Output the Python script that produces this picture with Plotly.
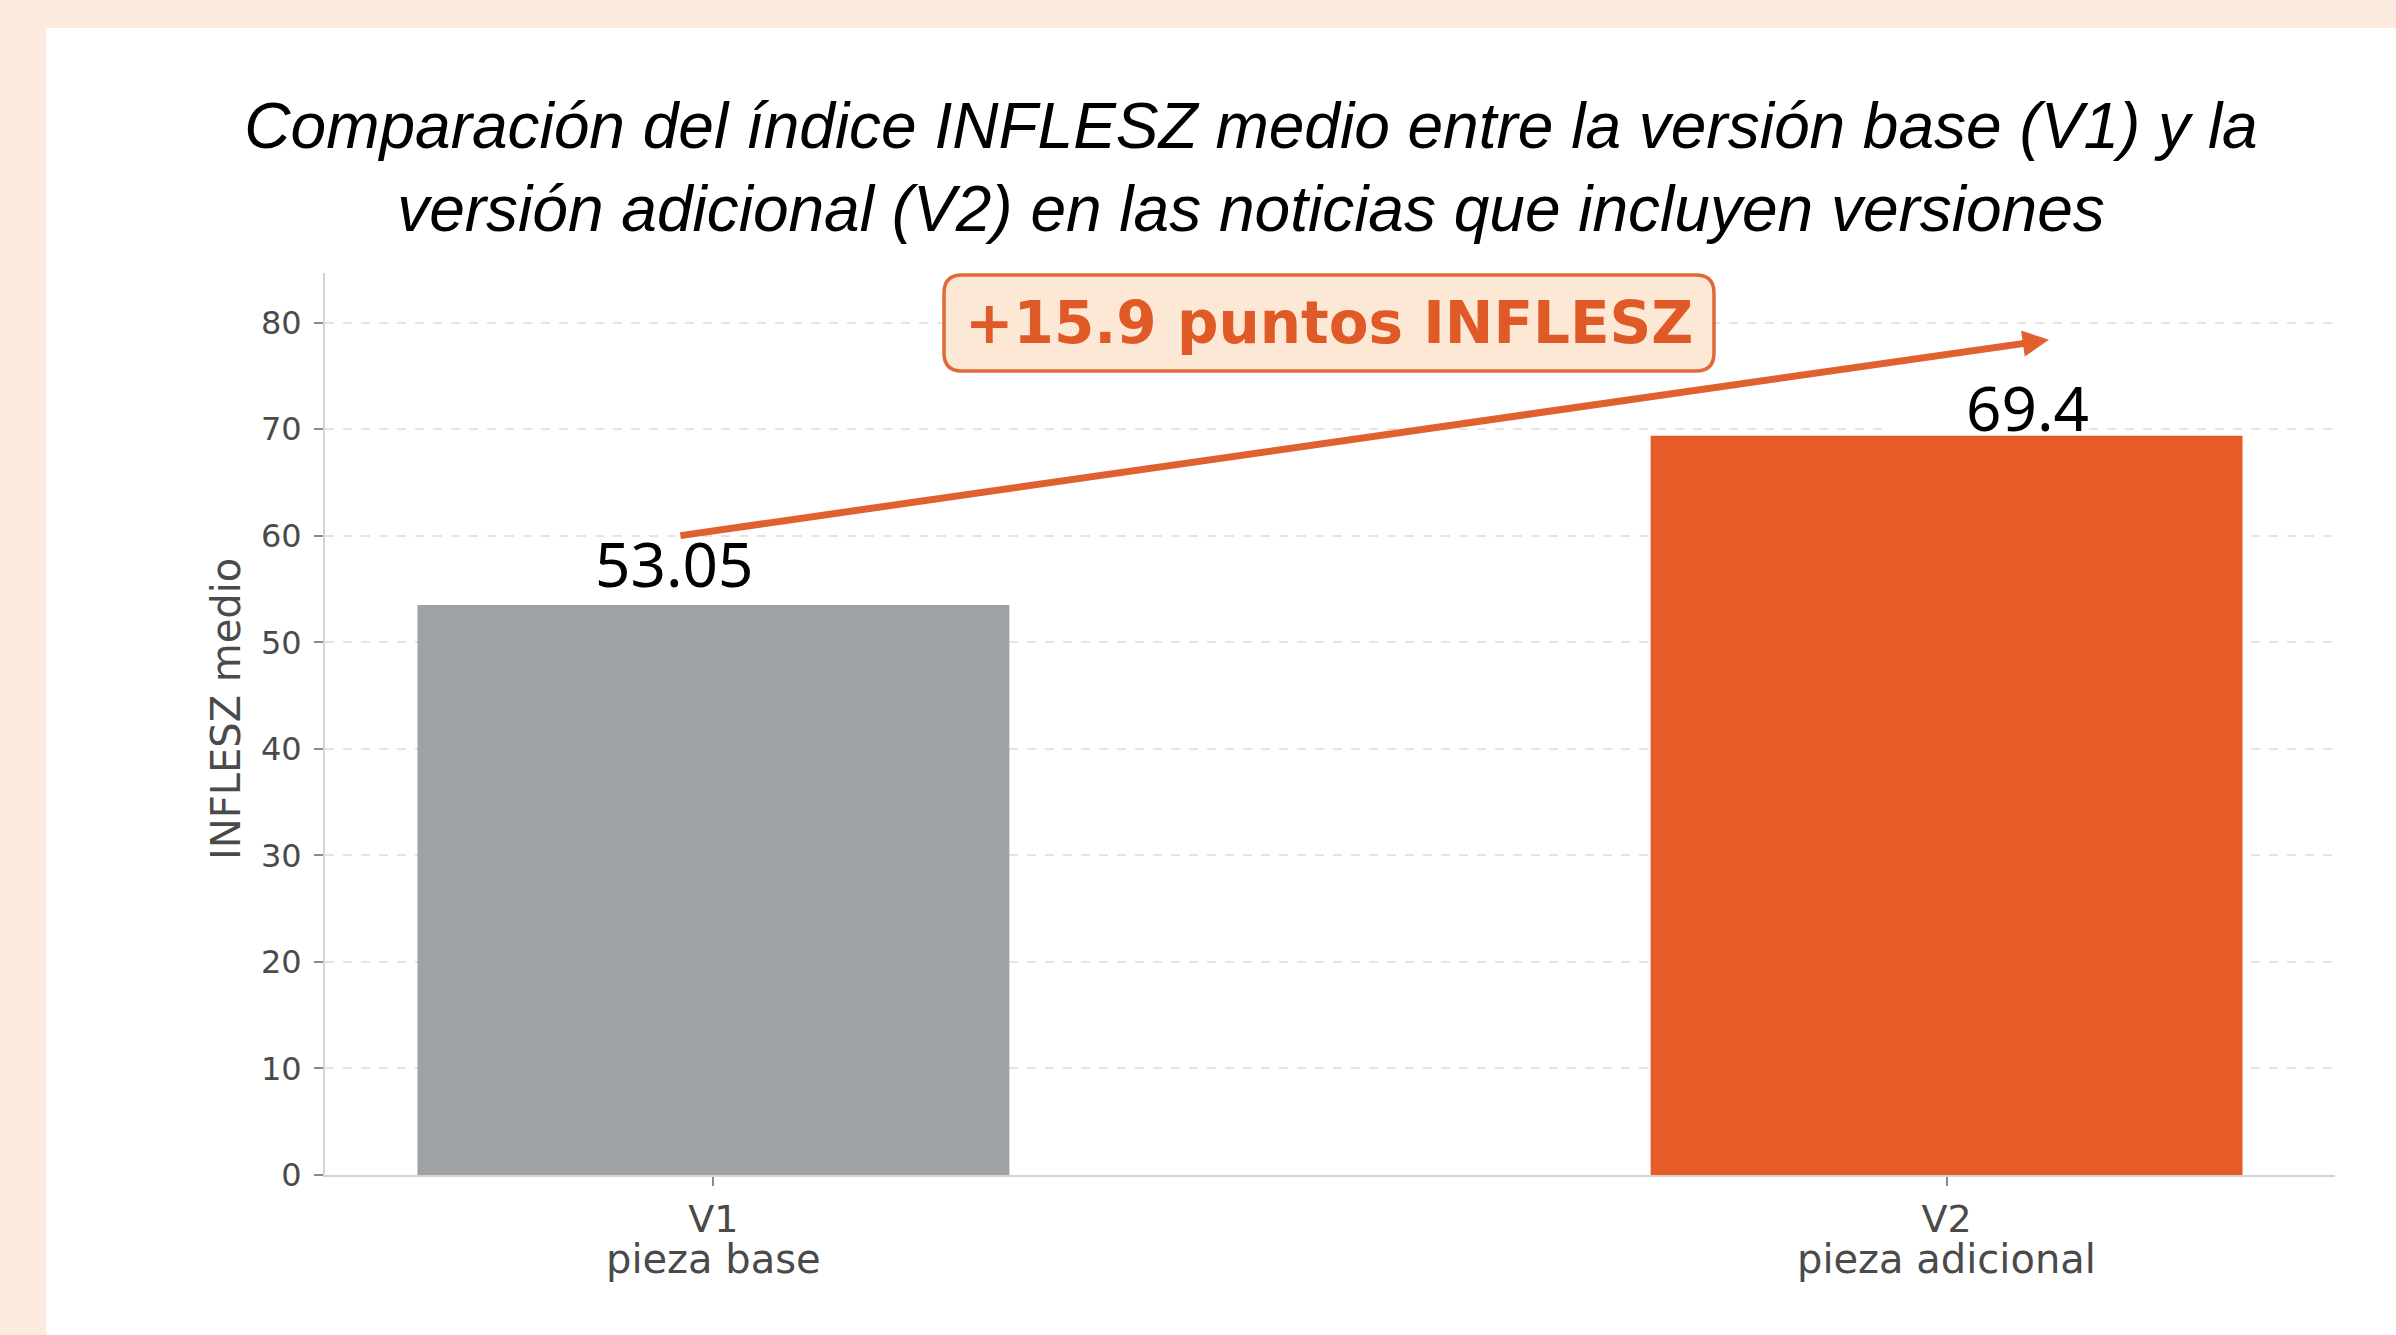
import plotly.graph_objects as go

# ---- data ----
versions = ["V1", "V2"]
descriptions = ["pieza base", "pieza adicional"]
inflesz_mean = [53.5, 69.4]
value_labels = ["53.05", "69.4"]
bar_colors = ["#9EA2A5", "#E65C28"]
difference_text = "+15.9 puntos INFLESZ"
y_ticks = [0, 10, 20, 30, 40, 50, 60, 70, 80]

xpos = list(range(len(versions)))

W, H = 2396, 1335
ML, MR, MT, MB = 325, 61, 273, 160
pw = W - ML - MR
ph = H - MT - MB


def px(x):
    return (x - ML) / pw


def py(y):
    return (H - MB - y) / ph


fig = go.Figure()
fig.add_trace(go.Bar(
    x=xpos, y=inflesz_mean, width=0.48,
    marker=dict(color=bar_colors, line=dict(width=0)),
    hoverinfo="skip", showlegend=False,
))

# white card over the peach background (peach visible top and left)
fig.add_shape(type="rect", xref="paper", yref="paper",
              x0=px(46), x1=px(W + 20), y0=py(H + 20), y1=py(28),
              fillcolor="white", line=dict(width=0), layer="below")

# white patch behind the V2 value label
fig.add_shape(type="rect", xref="x", yref="y",
              x0=0.95, x1=1.113, y0=inflesz_mean[1] + 0.1, y1=75.6,
              fillcolor="white", line=dict(width=0), layer="above")

# value labels
label_dx = [-0.032, 0.066]
label_dy = [3.95, 2.7]
for i, (v, lab) in enumerate(zip(inflesz_mean, value_labels)):
    fig.add_annotation(
        x=xpos[i] + label_dx[i], y=v + label_dy[i], xref="x", yref="y",
        text=lab, showarrow=False,
        font=dict(family="Noto Sans", size=62, color="black"),
        xanchor="center", yanchor="middle",
    )

# second line of the category labels
for i, d in enumerate(descriptions):
    fig.add_annotation(
        x=xpos[i], y=py(1259), xref="x", yref="paper",
        text=d, showarrow=False,
        font=dict(family="DejaVu Sans", size=40, color="#4a4a4a"),
        xanchor="center", yanchor="middle",
    )

# arrow from V1 to V2
fig.add_annotation(
    x=xpos[1] + 0.083, y=inflesz_mean[1] + 9.0, xref="x", yref="y",
    ax=xpos[0] - 0.028, ay=inflesz_mean[0] + 6.5, axref="x", ayref="y",
    text="", showarrow=True, arrowhead=2, arrowsize=0.75, arrowwidth=7,
    arrowcolor="#E0602F", standoff=0,
)

# rounded difference box
bx0, bx1, by0, by1, r = 944, 1714, 275, 371, 18
path = (
    f"M {px(bx0 + r)} {py(by0)} L {px(bx1 - r)} {py(by0)} "
    f"Q {px(bx1)} {py(by0)} {px(bx1)} {py(by0 + r)} "
    f"L {px(bx1)} {py(by1 - r)} Q {px(bx1)} {py(by1)} {px(bx1 - r)} {py(by1)} "
    f"L {px(bx0 + r)} {py(by1)} Q {px(bx0)} {py(by1)} {px(bx0)} {py(by1 - r)} "
    f"L {px(bx0)} {py(by0 + r)} Q {px(bx0)} {py(by0)} {px(bx0 + r)} {py(by0)} Z"
)
fig.add_shape(type="path", path=path, xref="paper", yref="paper",
              fillcolor="#FDE7D5", line=dict(color="#E0693A", width=3.5),
              layer="above")
fig.add_annotation(
    x=px((bx0 + bx1) / 2), y=py((by0 + by1) / 2), xref="paper", yref="paper",
    text=f"<b>{difference_text}</b>", showarrow=False,
    font=dict(family="DejaVu Sans", size=58, color="#E05A28"),
    xanchor="center", yanchor="middle",
)

# y axis title
fig.add_annotation(
    x=px(226), y=py(709), xref="paper", yref="paper",
    text="INFLESZ medio", textangle=-90, showarrow=False,
    font=dict(family="DejaVu Sans", size=40, color="#4a4a4a"),
    xanchor="center", yanchor="middle",
)

fig.update_layout(
    width=W, height=H,
    margin=dict(l=ML, r=MR, t=MT, b=MB),
    paper_bgcolor="#FDEBE0",
    plot_bgcolor="white",
    title=dict(
        text="Comparación del índice INFLESZ medio entre la versión base (V1) y la<br>"
             "versión adicional (V2) en las noticias que incluyen versiones",
        x=1251 / W, xanchor="center", y=1 - 148 / H, yanchor="middle",
        font=dict(family="Liberation Sans", size=64, color="black", style="italic"),
    ),
    xaxis=dict(
        range=[-0.315, 1.315],
        tickvals=xpos, ticktext=versions,
        tickfont=dict(family="DejaVu Sans", size=38, color="#4a4a4a"),
        showline=True, linecolor="#d4d4d4", linewidth=2,
        ticks="outside", ticklen=9, tickcolor="#888", tickwidth=2,
        showgrid=False, zeroline=False,
    ),
    yaxis=dict(
        range=[0, 84.67],
        tickvals=y_ticks,
        tickfont=dict(family="DejaVu Sans", size=32, color="#4a4a4a"),
        ticklabelstandoff=6,
        showline=True, linecolor="#d4d4d4", linewidth=2,
        ticks="outside", ticklen=9, tickcolor="#888", tickwidth=2,
        showgrid=True, gridcolor="#e4e4e4", gridwidth=1.5, griddash="dash",
        zeroline=False,
    ),
)

fig.write_html(
    "out.html",
    config={"displayModeBar": False},
    post_script="document.body.style.margin='0';document.body.style.overflow='hidden';",
)
